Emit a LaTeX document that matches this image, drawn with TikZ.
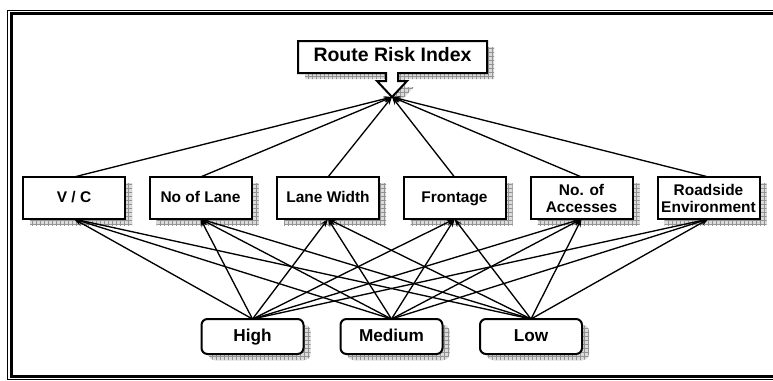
\documentclass[tikz,border=0pt]{standalone}
\usepackage{fontspec}
\setmainfont{Liberation Sans}
\usetikzlibrary{arrows.meta,shadows,patterns}

\begin{document}
\begin{tikzpicture}[x=0.75pt,y=-0.75pt,
  line join=miter,
  shade grid/.style={
    general shadow={shadow xshift=5.25pt,shadow yshift=-4.5pt,fill=gray!28},
    general shadow={shadow xshift=5.25pt,shadow yshift=-4.5pt,pattern=grid,pattern color=gray!85}},
  factor/.style={draw, line width=1.5pt, fill=white, minimum width=76.5pt,
    minimum height=31.5pt, inner sep=0pt, outer sep=0pt, align=center,
    text height=0.72em, text depth=0pt,
    font=\fontsize{11.6}{12.8}\selectfont\bfseries, shade grid},
  two lines/.style={text height={}, text depth={}},
  level/.style={factor, rounded corners=4.5pt, minimum height=26.25pt,
    font=\fontsize{12.9}{14}\selectfont\bfseries},
  link/.style={line width=1pt, -{Stealth[length=6pt,width=4.2pt]}},
  frame thin/.style={line width=0.75pt},
  frame thick/.style={line width=2.25pt}]

\useasboundingbox (0,0) rectangle (773,380);
\clip (0,0) rectangle (773,380);

% double frame, open to the right
\draw[frame thin] (800,10) -- (7,10) -- (7,379.5) -- (800,379.5);
\draw[frame thick] (800,13.5) -- (11.5,13.5) -- (11.5,376) -- (800,376);

% top box with its downward pointer
\draw[line width=1.5pt, fill=white, shade grid]
  (298,41) -- (487,41) -- (487,73) -- (398,73) -- (398,81) -- (407,81)
  -- (392,97) -- (377,81) -- (386,81) -- (386,73) -- (298,73) -- cycle;
\node[font=\fontsize{14.6}{16}\selectfont\bfseries, text height=0.72em, text depth=0pt,
  inner sep=0pt] (title) at (392.5,57) {Route Risk Index};
\coordinate (tip) at (392,97);

% criteria
\node[factor] (vc)  at (74,198)    {V / C};
\node[factor] (nol) at (200.5,198) {No of Lane};
\node[factor] (lw)  at (328,198)   {Lane Width};
\node[factor] (fr)  at (454.5,198) {Frontage};
\node[factor, two lines] (noa) at (581.5,198) {No. of\\Accesses};
\node[factor, two lines] (re)  at (708.5,198) {Roadside\\Environment};

% rating levels
\node[level] (high) at (252.5,336.5) {High};
\node[level] (med)  at (391.5,336.5) {Medium};
\node[level] (low)  at (531,336.5)   {Low};

% links
\foreach \m in {vc,nol,lw,fr,noa,re}
  \draw[link] (\m.north) -- (tip);
\foreach \b in {high,med,low}
  \foreach \m in {vc,nol,lw,fr,noa,re}
    \draw[link] (\b.north) -- (\m.south);
\end{tikzpicture}
\end{document}
